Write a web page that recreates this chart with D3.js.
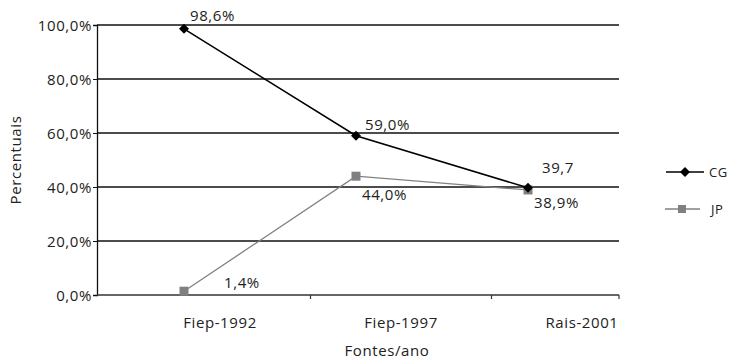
<!DOCTYPE html>
<html><head><meta charset="utf-8">
<script src="https://cdn.jsdelivr.net/npm/d3@7"></script>
<style>
body{margin:0;background:#fff;}
text{font-family:"Open Sans",sans-serif;fill:#222;letter-spacing:0.6px;}
</style></head>
<body><svg id="c" width="732" height="361"></svg>
<script>
const categories = ["Fiep-1992","Fiep-1997","Rais-2001"];
const cgValues = [98.6, 59.0, 39.7];
const jpValues = [1.4, 44.0, 38.9];
const cgLabels = ["98,6%","59,0%","39,7"];
const jpLabels = ["1,4%","44,0%","38,9%"];
const yTicks = [0,20,40,60,80,100];
const yTickLabels = ["0,0%","20,0%","40,0%","60,0%","80,0%","100,0%"];
const seriesNames = ["CG","JP"];

const FS = 15;
const svg = d3.select("#c");
const L = 97, R = 619, T = 25, B = 295;
const y = d3.scaleLinear().domain([0,100]).range([B,T]);
const xPt = d3.scalePoint().domain(categories).range([184,528]);
const xLab = d3.scalePoint().domain(categories).range([220,582]);

// gridlines
svg.append("g").selectAll("line").data(yTicks.filter(d=>d>0)).join("line")
  .attr("x1",L).attr("x2",R).attr("y1",d=>y(d)).attr("y2",d=>y(d))
  .attr("stroke","#111").attr("stroke-width",1.3);

// y axis
const yAxis = d3.axisLeft(y).tickValues(yTicks).tickSize(4).tickFormat((d,i)=>yTickLabels[i]);
const gy = svg.append("g").attr("transform",`translate(${L},0)`).call(yAxis);
gy.select(".domain").attr("stroke","#111").attr("stroke-width",1.3);
gy.selectAll(".tick line").attr("stroke","#111");
gy.selectAll(".tick text").attr("font-size",FS).attr("font-family","Open Sans").attr("fill","#222").attr("x",-5).attr("dy","0.35em");

// x axis
svg.append("line").attr("x1",L).attr("x2",R).attr("y1",B).attr("y2",B).attr("stroke","#333").attr("stroke-width",1.5);
const mids = [];
for(let i=0;i<categories.length-1;i++) mids.push((xLab(categories[i])+xLab(categories[i+1]))/2);
mids.push(R);
svg.append("g").selectAll("line").data(mids).join("line")
  .attr("x1",d=>d).attr("x2",d=>d).attr("y1",B).attr("y2",B+4).attr("stroke","#333").attr("stroke-width",1.2);
svg.append("g").selectAll("text").data(categories).join("text")
  .attr("x",d=>xLab(d)).attr("y",328).attr("text-anchor","middle").attr("font-size",FS).text(d=>d);

// titles
svg.append("text").attr("x",387).attr("y",356).attr("text-anchor","middle").attr("font-size",FS).text("Fontes/ano");
svg.append("text").attr("transform","translate(21,160) rotate(-90)").attr("text-anchor","middle").attr("font-size",FS).text("Percentuais");

const line = d3.line().x((d,i)=>xPt(categories[i])).y(d=>y(d));
// JP
svg.append("path").datum(jpValues).attr("d",line).attr("fill","none").attr("stroke","#808080").attr("stroke-width",1.3);
svg.append("g").selectAll("rect").data(jpValues).join("rect")
  .attr("x",(d,i)=>xPt(categories[i])-4.5).attr("y",d=>y(d)-4.5).attr("width",9).attr("height",9).attr("fill","#808080");
// CG
svg.append("path").datum(cgValues).attr("d",line).attr("fill","none").attr("stroke","#000").attr("stroke-width",1.5);
const diamond = d3.symbol().type(d3.symbolSquare).size(50);
svg.append("g").selectAll("path").data(cgValues).join("path")
  .attr("d",diamond).attr("transform",(d,i)=>`translate(${xPt(categories[i])},${y(d)}) rotate(45)`).attr("fill","#000");

// data labels
const cgOff = [[6,-8],[9,-6],[14,-15]];
const jpOff = [[40,-3],[6,24],[6,18]];
svg.append("g").selectAll("text").data(cgValues).join("text")
  .attr("x",(d,i)=>xPt(categories[i])+cgOff[i][0]).attr("y",(d,i)=>y(d)+cgOff[i][1])
  .attr("font-size",FS).text((d,i)=>cgLabels[i]);
svg.append("g").selectAll("text").data(jpValues).join("text")
  .attr("x",(d,i)=>xPt(categories[i])+jpOff[i][0]).attr("y",(d,i)=>y(d)+jpOff[i][1])
  .attr("font-size",FS).text((d,i)=>jpLabels[i]);

// legend
const lg = svg.append("g");
lg.append("line").attr("x1",666).attr("x2",704).attr("y1",172).attr("y2",172).attr("stroke","#000").attr("stroke-width",1.5);
lg.append("path").attr("d",diamond).attr("transform","translate(685,172) rotate(45)");
lg.append("text").attr("x",709).attr("y",177).attr("font-size",13).text(seriesNames[0]);
lg.append("line").attr("x1",665).attr("x2",700).attr("y1",209).attr("y2",209).attr("stroke","#808080").attr("stroke-width",1.3);
lg.append("rect").attr("x",678).attr("y",205).attr("width",8).attr("height",8).attr("fill","#808080");
lg.append("text").attr("x",711).attr("y",214).attr("font-size",13).text(seriesNames[1]);
</script></body></html>
